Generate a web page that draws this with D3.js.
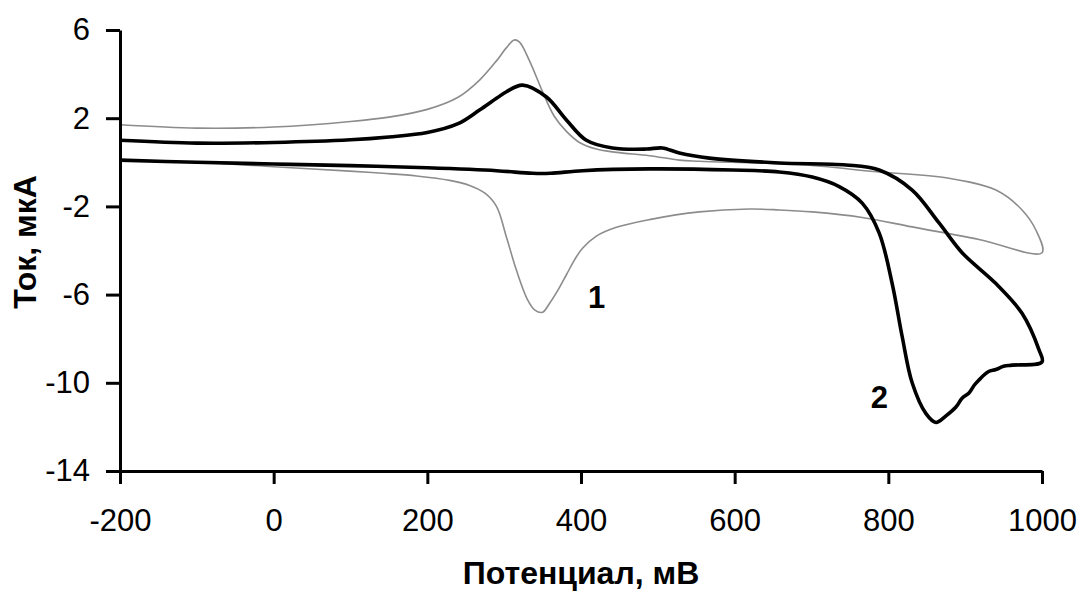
<!DOCTYPE html>
<html>
<head>
<meta charset="utf-8">
<script src="https://cdn.jsdelivr.net/npm/d3@7"></script>
<style>
  body { margin: 0; background: #fff; }
  svg { font-family: Arial, "Liberation Sans", sans-serif; }
</style>
</head>
<body>
<div id="chart"></div>
<script>
// curve 1 (thin grey): potential, mV and current, uA
var curve1Potential = [-200, -100, 0, 100, 150, 200, 240, 268, 290, 303, 313, 320, 333, 350, 365, 381, 398, 420, 446, 489, 528, 554, 684, 788, 875, 940, 974, 992, 1000,
  918, 831, 766, 701, 658, 619, 554, 489, 446, 420, 402, 392, 381, 370, 359, 350, 340, 330, 316, 303, 290, 275, 255, 229, 186, 142, 99, 0, -100, -200];
var curve1Current = [1.7, 1.55, 1.6, 1.85, 2.05, 2.4, 2.95, 3.73, 4.6, 5.2, 5.55, 5.45, 4.6, 3.2, 2.1, 1.4, 0.9, 0.6, 0.45, 0.3, 0.1, 0.05, -0.1, -0.44, -0.7, -1.26, -2.16, -3.07, -4.1,
  -3.5, -2.93, -2.5, -2.25, -2.16, -2.12, -2.25, -2.6, -2.95, -3.35, -3.9, -4.4, -5.1, -5.8, -6.4, -6.8, -6.7, -6.2, -4.9, -3.4, -2.0, -1.4, -1.05, -0.82, -0.62, -0.5, -0.4, -0.2, 0.0, 0.1];

// curve 2 (thick black)
var curve2Potential = [-200, -100, 0, 100, 150, 200, 240, 268, 290, 303, 324, 355, 381, 407, 441, 485, 506, 528, 567, 658, 745, 788, 831, 866, 896, 940, 974, 996, 1000,
  961, 950, 940, 930, 918, 912, 905, 896, 888, 875, 862, 849, 831, 818, 805, 788, 766, 736, 701, 658, 597, 489, 402, 360, 337, 290, 200, 100, 0, -100, -200];
var curve2Current = [1.0, 0.87, 0.9, 1.02, 1.15, 1.35, 1.75, 2.37, 2.9, 3.2, 3.5, 2.96, 1.92, 1.0, 0.65, 0.6, 0.65, 0.42, 0.19, -0.03, -0.12, -0.35, -1.26, -2.75, -4.1, -5.5, -6.85, -8.5, -9.05,
  -9.2, -9.25, -9.4, -9.5, -9.87, -10.1, -10.46, -10.7, -11.1, -11.5, -11.8, -11.4, -10.0, -7.9, -5.5, -3.2, -1.85, -1.1, -0.67, -0.44, -0.35, -0.3, -0.38, -0.5, -0.5, -0.38, -0.25, -0.15, -0.08, 0.0, 0.1];

var xTicks = [-200, 0, 200, 400, 600, 800, 1000];
var yTicks = [6, 2, -2, -6, -10, -14];

var width = 1082;
var height = 592;
var margin = {top: 30, right: 40, bottom: 121, left: 120};

var svg = d3.select("#chart").append("svg")
    .attr("width", width)
    .attr("height", height);

var x = d3.scaleLinear().domain([-200, 1000]).range([margin.left, width - margin.right]);
var y = d3.scaleLinear().domain([-14, 6]).range([height - margin.bottom, margin.top]);

function toPoints(px, py) {
    return px.map(function(v, i) { return [v, py[i]]; });
}

var line = d3.line()
    .x(function(d) { return x(d[0]); })
    .y(function(d) { return y(d[1]); })
    .curve(d3.curveCatmullRom.alpha(0.5));

// grey curve first, black on top
svg.append("path")
    .attr("d", line(toPoints(curve1Potential, curve1Current)))
    .attr("fill", "none")
    .attr("stroke", "#8c8c8c")
    .attr("stroke-width", 1.6);

svg.append("path")
    .attr("d", line(toPoints(curve2Potential, curve2Current)))
    .attr("fill", "none")
    .attr("stroke", "#000")
    .attr("stroke-width", 3.6)
    .attr("stroke-linejoin", "round");

// axes
var fmt = function(d) { return String(d); };

var xAxis = svg.append("g")
    .attr("transform", "translate(0," + (height - margin.bottom) + ")")
    .call(d3.axisBottom(x).tickValues(xTicks).tickFormat(fmt).tickSize(13).tickSizeOuter(0).tickPadding(25));

var yAxis = svg.append("g")
    .attr("transform", "translate(" + margin.left + ",0)")
    .call(d3.axisLeft(y).tickValues(yTicks).tickFormat(fmt).tickSize(14).tickSizeOuter(0).tickPadding(16));

[xAxis, yAxis].forEach(function(g) {
    g.selectAll("path, line").attr("stroke", "#000").attr("stroke-width", 3);
    g.selectAll("text")
        .attr("fill", "#000")
        .attr("font-size", "31px")
        .attr("font-family", "Arial, 'Liberation Sans', sans-serif");
});

// axis titles
svg.append("text")
    .attr("x", 581)
    .attr("y", 584)
    .attr("text-anchor", "middle")
    .attr("font-size", "32px")
    .attr("font-weight", "bold")
    .text("Потенциал, мВ");

svg.append("text")
    .attr("transform", "translate(36,242) rotate(-90)")
    .attr("text-anchor", "middle")
    .attr("font-size", "32px")
    .attr("font-weight", "bold")
    .text("Ток, мкА");

// curve labels
svg.append("text")
    .attr("x", x(409))
    .attr("y", y(-6.6))
    .attr("font-size", "31px")
    .attr("font-weight", "bold")
    .text("1");

svg.append("text")
    .attr("x", x(777))
    .attr("y", y(-11.14))
    .attr("font-size", "31px")
    .attr("font-weight", "bold")
    .text("2");
</script>
</body>
</html>
